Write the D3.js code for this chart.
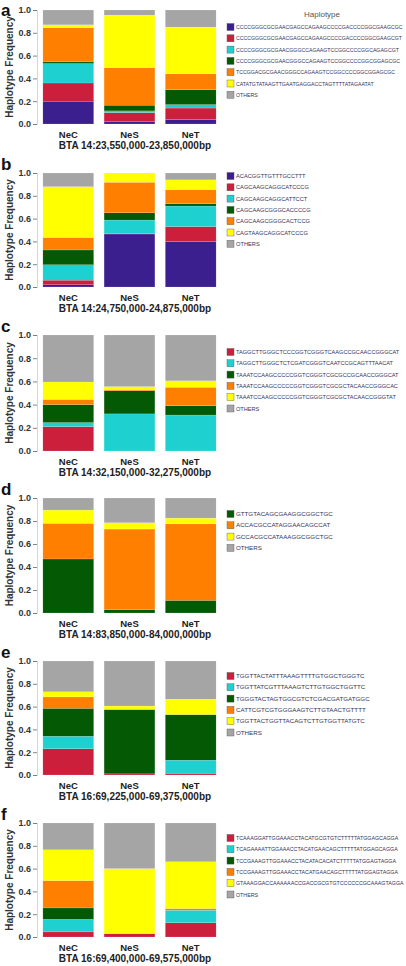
<!DOCTYPE html>
<html><head><meta charset="utf-8">
<script src="https://cdn.jsdelivr.net/npm/d3@7"></script>
<style>html,body{margin:0;padding:0;background:#fff}svg{display:block}</style>
</head><body>
<script>
// ---------- DATA ----------
const populations = ["NeC", "NeS", "NeT"];
const regions = [
  "BTA 14:23,550,000-23,850,000bp",
  "BTA 14:24,750,000-24,875,000bp",
  "BTA 14:32,150,000-32,275,000bp",
  "BTA 14:83,850,000-84,000,000bp",
  "BTA 16:69,225,000-69,375,000bp",
  "BTA 16:69,400,000-69,575,000bp"
];
const colorKeys = ["purple", "red", "cyan", "green", "orange", "yellow", "gray"];
const colorValues = ["#3b1f8e", "#cc1f3c", "#1fd0d0", "#045a04", "#ff8000", "#ffff00", "#a5a5a5"];

// Panel a
const hapA = ["CCCCGGGCGCGAACGAGCCAGAAGCCCCGACCCCGGCGAAGCGC","CCCCGGGCGCGAACGAGCCAGAAGCCCCGACCCCGGCGAAGCGT","CCCCGGGCGCGAACGGGCCAGAAGTCCGGCCCCGGCAGAGCGT","CCCCGGGCGCGAACGGGCCAGAAGTCCGGCCCCGGCGGAGCGC","TCCGGACGCGAACGGGCCAGAAGTCCGGCCCCGGCGGAGCGC","CATATGTATAAGTTGAATGAGGACCTAGTTTTATAGAATAT","OTHERS"];
const keysA = ["purple","red","cyan","green","orange","yellow","gray"];
// rows = haplotypes, columns = NeC, NeS, NeT
const valuesA = [[0.20,0.02,0.04],[0.16,0.08,0.10],[0.17,0.015,0.03],[0.015,0.05,0.13],[0.30,0.33,0.14],[0.025,0.46,0.41],[0.13,0.045,0.15]];

// Panel b
const hapB = ["ACACGGTTGTTTGCCTTT","CAGCAAGCAGGCATCCCG","CAGCAAGCAGGCATTCCT","CAGCAAGCGGGCACCCCG","CAGCAAGCGGGCACTCCG","CAGTAAGCAGGCATCCCG","OTHERS"];
const keysB = ["purple","red","cyan","green","orange","yellow","gray"];
const valuesB = [[0.02,0.465,0.40],[0.04,0.005,0.13],[0.135,0.117,0.18],[0.13,0.064,0.02],[0.11,0.268,0.125],[0.445,0.081,0.085],[0.12,0.0,0.06]];

// Panel c
const hapC = ["TAGGCTTGGGCTCCCGGTCGGGTCAAGCCGCAACCGGGCAT","TAGGCTTGGGCTCTCGATCGGGTCAATCCGCAGTTTAACAT","TAAATCCAAGCCCCCGGTCGGGTCGCGCCGCAACCGGGCAT","TAAATCCAAGCCCCCGGTCGGGTCGCGCTACAACCGGGCAC","TAAATCCAAGCCCCCGGTCGGGTCGCGCTACAACCGGGTAT","OTHERS"];
const keysC = ["red","cyan","green","orange","yellow","gray"];
const valuesC = [[0.21,0.0,0.0],[0.035,0.32,0.31],[0.155,0.20,0.08],[0.045,0.01,0.16],[0.15,0.025,0.055],[0.405,0.445,0.395]];

// Panel d
const hapD = ["GTTGTACAGCGAAGGCGGCTGC","ACCACGCCATAGGAACAGCCAT","GCCACGCCATAAAGGCGGCTGC","OTHERS"];
const keysD = ["green","orange","yellow","gray"];
const valuesD = [[0.47,0.03,0.11],[0.31,0.70,0.665],[0.115,0.055,0.05],[0.105,0.215,0.175]];

// Panel e
const hapE = ["TGGTTACTATTTAAAGTTTTGTGGCTGGGTC","TGGTTATCGTTTAAAGTCTTGTGGCTGGTTC","TGGGTACTAGTGGCGTCTCGACGATGATGGC","CATTCGTCGTGGGAAGTCTTGTAACTGTTTT","TGGTTACTGGTTACAGTCTTGTGGTTATGTC","OTHERS"];
const keysE = ["red","cyan","green","orange","yellow","gray"];
const valuesE = [[0.23,0.01,0.015],[0.11,0.0,0.115],[0.245,0.565,0.40],[0.10,0.0,0.0],[0.045,0.03,0.135],[0.27,0.395,0.335]];

// Panel f
const hapF = ["TCAAAGGATTGGAAACCTACATGCGTGTCTTTTTATGGAGCAGGA","TCAGAAAATTGGAAACCTACATGAACAGCTTTTTATGGAGCAGGA","TCCGAAAGTTGGAAACCTACATACACATCTTTTTATGGAGTAGGA","TCCGAAAGTTGGAAACCTACATGAACAGCTTTTTATGGAGTAGGA","GTAAAGGACCAAAAAACCGACCGCGTGTCCCCCCGCAAAGTAGGA","OTHERS"];
const keysF = ["red","cyan","green","orange","yellow","gray"];
const valuesF = [[0.045,0.03,0.125],[0.11,0.0,0.11],[0.10,0.0,0.0],[0.24,0.0,0.015],[0.27,0.57,0.41],[0.235,0.40,0.34]];

const yTicks = [0, 0.2, 0.4, 0.6, 0.8, 1.0];

// ---------- LAYOUT ----------
const panels = [
  {letter:"a", haps:hapA, keys:keysA, values:valuesA, top:10,  h:114, legendTop:27,  lf:5.2, title:true},
  {letter:"b", haps:hapB, keys:keysB, values:valuesB, top:173, h:114, legendTop:176, lf:5.7},
  {letter:"c", haps:hapC, keys:keysC, values:valuesC, top:335, h:116, legendTop:352, lf:5.6},
  {letter:"d", haps:hapD, keys:keysD, values:valuesD, top:498, h:115, legendTop:514, lf:6.2},
  {letter:"e", haps:hapE, keys:keysE, values:valuesE, top:661, h:114, legendTop:676, lf:6.2},
  {letter:"f", haps:hapF, keys:keysF, values:valuesF, top:823, h:114, legendTop:838, lf:5.3}
];

const color = d3.scaleOrdinal().domain(colorKeys).range(colorValues);
const W = 406, H = 966;
const svg = d3.select("body").append("svg").attr("width", W).attr("height", H)
  .style("font-family", "'Liberation Sans', Arial, sans-serif");
svg.append("rect").attr("width", W).attr("height", H).attr("fill", "#fff");

const x = d3.scaleBand().domain(populations).range([38, 221]).paddingInner(0.17).paddingOuter(0.08);

panels.forEach((p, i) => {
  const g = svg.append("g");
  const y = d3.scaleLinear().domain([0, 1]).range([p.top + p.h, p.top]);

  const rows = populations.map((pop, j) => {
    const o = {pop};
    p.keys.forEach((k, r) => { o[k] = p.values[r][j]; });
    return o;
  });
  const series = d3.stack().keys(p.keys)(rows);

  g.selectAll("g.s").data(series).join("g").attr("class", "s")
    .attr("fill", d => color(d.key))
    .selectAll("rect").data(d => d).join("rect")
    .attr("x", d => x(d.data.pop))
    .attr("width", x.bandwidth())
    .attr("y", d => y(d[1]))
    .attr("height", d => Math.max(0, y(d[0]) - y(d[1])))
    .attr("stroke", "#fff").attr("stroke-opacity", 0.35).attr("stroke-width", 0.4);

  const axis = g.append("g").attr("transform", "translate(37,0)")
    .call(d3.axisLeft(y).tickValues(yTicks).tickFormat(d3.format(".1f")).tickSize(4).tickPadding(2));
  axis.select(".domain").attr("stroke", "#bbb").attr("stroke-width", 0.6);
  axis.selectAll(".tick line").attr("stroke", "#666").attr("stroke-width", 0.8);
  axis.selectAll(".tick text").attr("fill", "#333").attr("font-size", 9).attr("font-weight", "bold")
    .attr("font-family", "'Liberation Sans', Arial, sans-serif");

  g.append("text")
    .attr("transform", `translate(13,${p.top + p.h / 2}) rotate(-90)`)
    .attr("text-anchor", "middle").attr("font-size", 10).attr("font-weight", "bold").attr("fill", "#333")
    .text("Haplotype Frequency");

  g.selectAll("text.cat").data(populations).join("text").attr("class", "cat")
    .attr("x", d => x(d) + x.bandwidth() / 2).attr("y", p.top + p.h + 14)
    .attr("text-anchor", "middle").attr("font-size", 9.5).attr("font-weight", "bold").attr("fill", "#222")
    .text(d => d);

  g.append("text").attr("x", 135).attr("y", p.top + p.h + 25)
    .attr("text-anchor", "middle").attr("font-size", 10).attr("font-weight", "bold").attr("fill", "#222")
    .text(regions[i]);

  g.append("text").attr("x", 1).attr("y", Math.max(16, p.top - 3))
    .attr("font-size", 17).attr("font-weight", "bold").attr("fill", "#111")
    .text(p.letter);

  if (p.title) {
    g.append("text").attr("x", 322).attr("y", 17).attr("text-anchor", "middle")
      .attr("font-size", 8).attr("fill", "#555").text("Haplotype");
  }
  const lg = g.selectAll("g.leg").data(p.haps).join("g").attr("class", "leg")
    .attr("transform", (d, r) => `translate(227,${p.legendTop + r * 11.3})`);
  lg.append("rect").attr("x", 0).attr("y", -3.5).attr("width", 7).attr("height", 7)
    .attr("fill", (d, r) => color(p.keys[r])).attr("stroke", "#555").attr("stroke-width", 0.4);
  lg.append("text").attr("x", 9).attr("y", 2.1).attr("font-size", p.lf).attr("fill", "#33335a")
    .text(d => d);
});
</script>
</body></html>
